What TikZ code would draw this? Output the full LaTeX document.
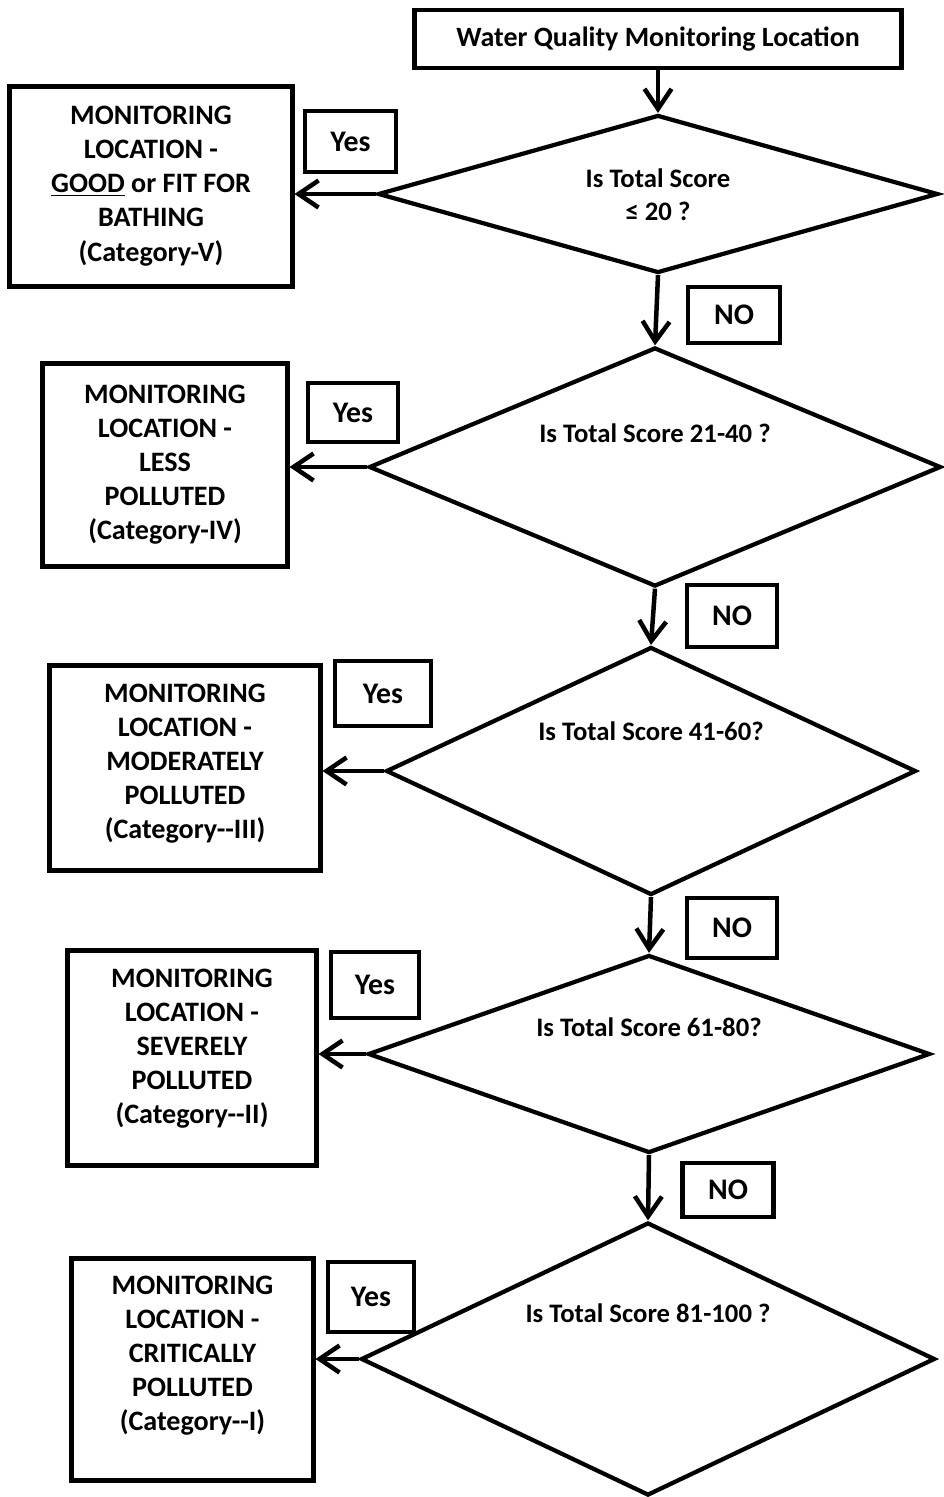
\documentclass[tikz,border=0pt]{standalone}
\usepackage{fontspec}
\setmainfont{Carlito}
\usetikzlibrary{shapes.geometric,arrows.meta}
\tikzstyle{res}=[draw=black,line width=1mm,align=center,inner sep=0pt,font=\bfseries\fontsize{16}{19.4}\selectfont]
\tikzstyle{lbl}=[draw=black,line width=0.85mm,inner sep=0pt,font=\bfseries\fontsize{17}{20}\selectfont]
\tikzstyle{dia}=[diamond,draw=black,line width=0.85mm,inner sep=0pt,aspect=3]
\tikzstyle{qs}=[align=center,font=\bfseries\fontsize{15.2}{19}\selectfont]
\tikzstyle{arr}=[line width=0.9mm,-{Straight Barb[length=4mm,width=5.4mm]}]

\begin{document}
\begin{tikzpicture}[x=0.2mm,y=-0.2mm]
\fill[white] (0,0) rectangle (944,1497);
\useasboundingbox (0,0) rectangle (944,1497);
\node[lbl,minimum width=97.4mm,minimum height=11.6mm,font=\bfseries\fontsize{15.9}{18}\selectfont] (top) at (658,39) {Water Quality Monitoring Location};

\node[dia,minimum width=112mm,minimum height=31.6mm] (d1) at (658,194) {};
\node[qs] (q1) at (658,195) {Is Total Score\\≤ 20 ?};
\node[dia,minimum width=114.4mm,minimum height=47.8mm] (d2) at (655,467) {};
\node[qs] (q2) at (655,433) {Is Total Score 21-40 ?};
\node[dia,minimum width=106mm,minimum height=49.6mm] (d3) at (651,771) {};
\node[qs] (q3) at (651,731) {Is Total Score 41-60?};
\node[dia,minimum width=112.4mm,minimum height=39.6mm] (d4) at (649,1054) {};
\node[qs] (q4) at (649,1027) {Is Total Score 61-80?};
\node[dia,minimum width=114.8mm,minimum height=54.6mm] (d5) at (648,1359) {};
\node[qs] (q5) at (648,1313) {Is Total Score 81-100 ?};

\node[res,minimum width=56.4mm,minimum height=40mm] (r1) at (151,186) {MONITORING\\LOCATION -\\\underline{GOOD} or FIT FOR\\BATHING\\(Category-V)};
\node[res,minimum width=48.8mm,minimum height=40.6mm] (r2) at (165,464.5) {MONITORING\\LOCATION -\\LESS\\POLLUTED\\(Category-IV)};
\node[res,minimum width=54mm,minimum height=41mm,text depth=2.6mm] (r3) at (185,767.5) {MONITORING\\LOCATION -\\MODERATELY\\POLLUTED\\(Category-{}-III)};
\node[res,minimum width=49.6mm,minimum height=43mm,text depth=4.6mm] (r4) at (192,1057.5) {MONITORING\\LOCATION -\\SEVERELY\\POLLUTED\\(Category-{}-II)};
\node[res,minimum width=48.2mm,minimum height=44.4mm,text depth=6.2mm] (r5) at (192.5,1369) {MONITORING\\LOCATION -\\CRITICALLY\\POLLUTED\\(Category-{}-I)};

\node[lbl,minimum width=18.2mm,minimum height=12.2mm] (y1) at (350.5,141.5) {Yes};
\node[lbl,minimum width=18mm,minimum height=11.8mm] (y2) at (353,412.5) {Yes};
\node[lbl,minimum width=19.2mm,minimum height=13mm] (y3) at (383,693.5) {Yes};
\node[lbl,minimum width=17.6mm,minimum height=13.2mm] (y4) at (375,985) {Yes};
\node[lbl,minimum width=17.2mm,minimum height=14mm] (y5) at (371,1297) {Yes};

\node[lbl,minimum width=18.4mm,minimum height=11.2mm] (n1) at (734,315) {NO};
\node[lbl,minimum width=18mm,minimum height=12.4mm] (n2) at (732,616) {NO};
\node[lbl,minimum width=18mm,minimum height=12mm] (n3) at (732,928) {NO};
\node[lbl,minimum width=18.2mm,minimum height=10.8mm] (n4) at (728,1190) {NO};

\draw[arr] (top.south) -- (d1.north);
\draw[arr] (d1.south) -- (d2.north);
\draw[arr] (d2.south) -- (d3.north);
\draw[arr] (d3.south) -- (d4.north);
\draw[arr] (d4.south) -- (d5.north);
\draw[arr] (d1.west) -- (d1.west -| r1.east);
\draw[arr] (d2.west) -- (d2.west -| r2.east);
\draw[arr] (d3.west) -- (d3.west -| r3.east);
\draw[arr] (d4.west) -- (d4.west -| r4.east);
\draw[arr] (d5.west) -- (d5.west -| r5.east);
\end{tikzpicture}
\end{document}
